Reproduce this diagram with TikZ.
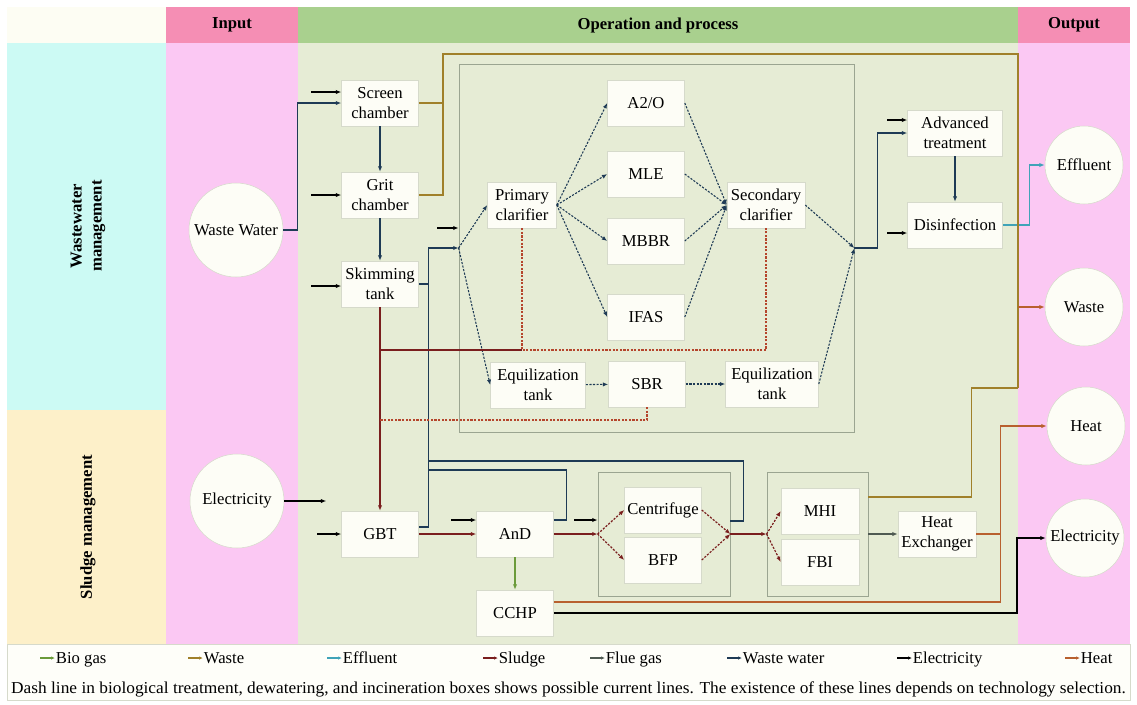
\documentclass[tikz,border=0pt]{standalone}
\usepackage{fontspec}
\setmainfont{Liberation Serif}
\usepackage{graphicx}
\usetikzlibrary{positioning, calc, arrows.meta}

\definecolor{hdcream}{HTML}{FDFDF3}
\definecolor{hdpink}{HTML}{F58EB4}
\definecolor{hdgreen}{HTML}{A9D08E}
\definecolor{wwcyan}{HTML}{CCFAF4}
\definecolor{slbeige}{HTML}{FDF0C9}
\definecolor{iopink}{HTML}{FBC8F3}
\definecolor{opgreen}{HTML}{E6ECD5}
\definecolor{boxfill}{HTML}{FDFDF6}
\definecolor{boxline}{HTML}{D6DACB}
\definecolor{grpline}{HTML}{9BA591}
\definecolor{wastec}{HTML}{A0802A}
\definecolor{sludgec}{HTML}{7A1E1E}
\definecolor{wwc}{HTML}{1E3A55}
\definecolor{efflc}{HTML}{3FA3B8}
\definecolor{heatc}{HTML}{B8602E}
\definecolor{fluec}{HTML}{4F5A52}
\definecolor{biogasc}{HTML}{6B9B3A}
\definecolor{dotred}{HTML}{B5452C}
\definecolor{legcream}{HTML}{FEFEF9}

\tikzset{
  box/.style={draw=boxline, fill=boxfill, align=center, inner sep=1pt, minimum width=57.75pt, minimum height=34.5pt},
  wbox/.style={box, minimum width=71.25pt},
  outcirc/.style={circle, draw=boxline, fill=boxfill, inner sep=0pt, minimum size=58.5pt},
  incirc/.style={outcirc, minimum size=70.5pt},
  grpbox/.style={draw=grpline, line width=0.6pt, inner sep=0pt},
  hdtext/.style={font=\fontsize{12.5}{15}\selectfont\bfseries},
  arr/.style={-{Latex[length=4pt,width=3.2pt]}},
  elin/.style={black, line width=1.1pt, {Latex[length=4pt,width=3.2pt]}-},
  elec/.style={black, line width=1.1pt, arr},
  ww/.style={wwc, line width=0.9pt, arr},
  wwl/.style={wwc, line width=0.9pt},
  wwdot/.style={wwc, line width=0.8pt, dash pattern=on 1.6pt off 1.1pt, arr},
  sl/.style={sludgec, line width=1pt, arr},
  sll/.style={sludgec, line width=1pt},
  sldot/.style={dotred, line width=1pt, dash pattern=on 1.6pt off 1.1pt},
  sldotarr/.style={sludgec, line width=0.9pt, dash pattern=on 1.6pt off 1.1pt, arr},
  wsl/.style={wastec, line width=1.2pt},
  ht/.style={heatc, line width=1pt},
  fg/.style={fluec, line width=0.9pt, arr},
  bg/.style={biogasc, line width=0.9pt, arr},
  eff/.style={efflc, line width=0.9pt, arr}
}

\begin{document}
\begin{tikzpicture}[x=0.75pt, y=-0.75pt, font=\fontsize{12.5}{15}\selectfont]
\useasboundingbox (0,0) rectangle (1137,704);
% bands
\fill[white] (0,0) rectangle (1137,704);
\fill[hdcream] (7,7) rectangle (166,43);
\fill[hdpink] (166,7) rectangle (298,43);
\fill[hdgreen] (298,7) rectangle (1018,43);
\fill[hdpink] (1018,7) rectangle (1130,43);
\fill[wwcyan] (7,43) rectangle (166,410);
\fill[slbeige] (7,410) rectangle (166,644);
\fill[iopink] (166,43) rectangle (298,644);
\fill[opgreen] (298,43) rectangle (1018,644);
\fill[iopink] (1018,43) rectangle (1130,644);
\draw[boxline, fill=legcream] (7,644) rectangle (1130,700);

\node[hdtext] (hin) at (232,25) {Input};
\node[hdtext] (hop) at (658,25) {Operation and process};
\node[hdtext] (hout) at (1074,25) {Output};
\node[hdtext, rotate=90, align=center] (lww) at (88,226) {Wastewater\\management};
\node[hdtext, rotate=90] (lsl) at (88,527) {Sludge management};

% treatment groups
\node[grpbox, minimum width=296.25pt, minimum height=276pt] (bio) at (656.5,248) {};
\node[grpbox, minimum width=99pt, minimum height=93pt] (dew) at (664,534) {};
\node[grpbox, minimum width=75.75pt, minimum height=93pt] (inc) at (817.5,534) {};

% inputs and outputs
\node[incirc] (inww) at (236,230) {Waste Water};
\node[incirc] (inel) at (237,501) {Electricity};
\node[outcirc] (outeff) at (1084,165) {Effluent};
\node[outcirc] (outwst) at (1084,307) {Waste};
\node[outcirc] (outheat) at (1086,426) {Heat};
\node[outcirc] (outel) at (1085,538) {Electricity};

% units
\node[box] (scr) at (380,103) {Screen\\chamber};
\node[box] (grit) at (380,195) {Grit\\chamber};
\node[box] (skim) at (380,284) {Skimming\\tank};
\node[box] (gbt) at (380,534) {GBT};
\node[box] (and) at (515,534) {AnD};
\node[box] (cchp) at (515,613) {CCHP};
\node[box, minimum width=51.75pt] (pcl) at (522,205) {Primary\\clarifier};
\node[box] (a2o) at (646,103) {A2/O};
\node[box] (mle) at (646,174) {MLE};
\node[box] (mbbr) at (646,241) {MBBR};
\node[box] (ifas) at (646,317) {IFAS};
\node[box, minimum width=58.5pt] (scl) at (766,205) {Secondary\\clarifier};
\node[wbox] (eqa) at (538,385) {Equilization\\tank};
\node[box] (sbr) at (647,384) {SBR};
\node[wbox, minimum width=69.75pt] (eqb) at (772,384) {Equilization\\tank};
\node[wbox] (adv) at (955,133) {Advanced\\treatment};
\node[wbox] (dis) at (955,225) {Disinfection};
\node[box] (cen) at (663,510) {Centrifuge};
\node[box] (bfp) at (663,560) {BFP};
\node[box, minimum width=58.5pt] (mhi) at (820,511) {MHI};
\node[box, minimum width=58.5pt] (fbi) at (820,562) {FBI};
\node[box, minimum width=58.5pt] (hex) at (937,534) {Heat\\Exchanger};

\coordinate (retA) at (429,470);
\coordinate (retD) at (429,461);
\coordinate (wtopr) at (1018,54);
\coordinate (wbot) at (1018,388);

% electricity in
\draw[elin] ($(scr.west)+(0,-11)$) -- +(-30,0);
\draw[elin] (grit.west) -- +(-30,0);
\draw[elin] ($(skim.west)+(0,2)$) -- +(-30,0);
\draw[elin] (gbt.west) -- +(-24,0);
\draw[elin] ($(and.west)+(0,-14)$) -- +(-25,0);
\draw[elin] ($(dew.west)+(0,-14)$) -- +(-24,0);
\draw[elin] ($(bio.west)+(0,-20)$) -- +(-22,0);
\draw[elin] ($(adv.west)+(0,-13)$) -- +(-20,0);
\draw[elin] ($(dis.west)+(0,8)$) -- +(-20,0);
\draw[elec, line width=1.6pt] (inel.east) -- +(42,0);

% waste water
\draw[ww] (inww.east) -- ++(14,0) |- (scr.west);
\draw[ww] (scr) -- (grit);
\draw[ww] (grit) -- (skim);
\draw[wwl] (skim.east) -- ++(10,0);
\draw[ww] ($(gbt.east)+(0,-7)$) -- ++(10,0) |- (bio.west);
\draw[wwl] ($(and.east)+(0,-14)$) -- ++(13,0) |- (retA);
\draw[wwl] ($(dew.east)+(0,-13)$) -- ++(13,0) |- (retD);
\draw[wwdot] (bio.west) -- (pcl.west);
\draw[wwdot] (bio.west) -- (eqa.west);
\foreach \n in {a2o, mle, mbbr, ifas} {
  \draw[wwdot] (pcl.east) -- (\n.west);
  \draw[wwdot] (\n.east) -- (scl.west);
}
\draw[wwdot] (eqa) -- (sbr);
\draw[wwdot] (sbr) -- (eqb);
\draw[wwdot] (scl.east) -- (bio.east);
\draw[wwdot] (eqb.east) -- (bio.east);
\draw[ww] (bio.east) -- ++(23,0) |- (adv.west);
\draw[ww] (adv) -- (dis);
\draw[eff] (dis.east) -- ++(27,0) |- (outeff.west);

% sludge
\draw[sl] (skim) -- (gbt);
\draw[sll] (skim.south |- 0,350) -- (pcl.south |- 0,350);
\draw[sldot] (pcl.south) -- (pcl.south |- 0,350) -- (scl.south |- 0,350) -- (scl.south);
\draw[sldot] (sbr.south) |- (skim.south |- 0,420);
\draw[sl] (gbt) -- (and);
\draw[sl] (and) -- (dew.west);
\draw[sldotarr] (dew.west) -- (cen.west);
\draw[sldotarr] (dew.west) -- (bfp.west);
\draw[sldotarr] (cen.east) -- (dew.east);
\draw[sldotarr] (bfp.east) -- (dew.east);
\draw[sl] (dew.east) -- (inc.west);
\draw[sldotarr] (inc.west) -- (mhi.west);
\draw[sldotarr] (inc.west) -- (fbi.west);

% gas, waste, heat, power
\draw[bg] (and) -- (cchp);
\draw[fg] (inc.east) -- (hex.west);
\draw[wsl] (scr.east) -- ++(24,0) |- (wtopr) -- (wbot);
\draw[wsl] (grit.east) -- ++(24,0) -- ++(0,-92);
\draw[wsl] ($(inc.east)+(0,-37)$) -- ++(103,0) |- (wbot);
\draw[wsl, arr, heatc] (wbot |- outwst.west) -- (outwst.west);
\draw[ht, arr] (hex.east) -- ++(24,0) |- (outheat.west);
\draw[ht] ($(cchp.east)+(0,-11)$) -| ($(hex.east)+(24,0)$);
\draw[elec] (cchp.east) -- ++(463,0) |- (outel.west);

% legend
\foreach \x/\c/\t [count=\i] in {40/biogasc/Bio gas, 188/wastec/Waste, 327/efflc/Effluent, 483/sludgec/Sludge, 590/fluec/Flue gas, 727/wwc/Waste water, 897/black/Electricity, 1065/heatc/Heat} {
  \draw[\c, line width=0.9pt, -{Latex[length=3pt,width=2.6pt]}] (\x,658) -- ++(15,0) coordinate (legtip\i);
  \node[anchor=base west, inner sep=0.5pt] (leg\i) at ($(legtip\i)+(0,5)$) {\t};
}
\node (note) at (568.5,689) {\resizebox{836pt}{\height}{Dash line in biological treatment, dewatering, and incineration boxes shows possible current lines. The existence of these lines depends on technology selection.}};
\end{tikzpicture}
\end{document}
